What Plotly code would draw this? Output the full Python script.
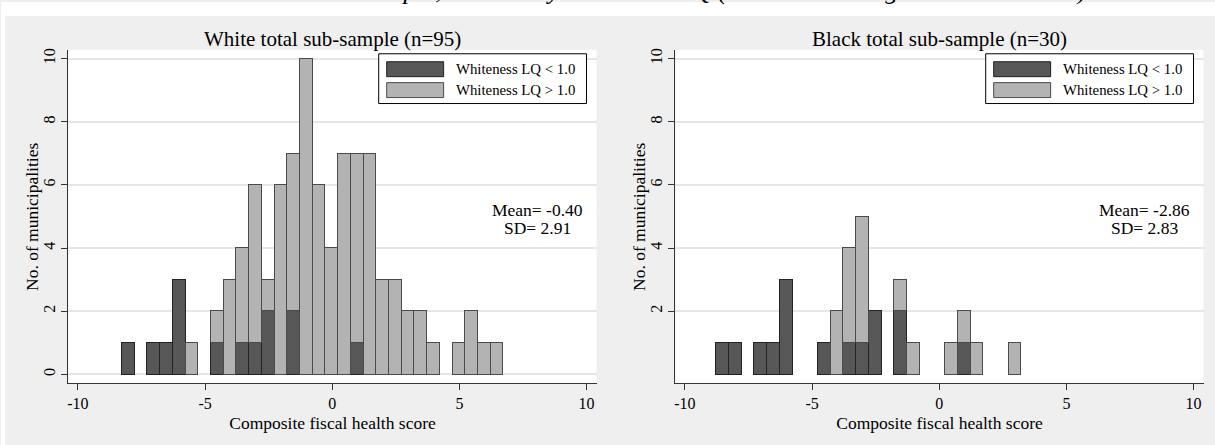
import plotly.graph_objects as go

# ---------------- data ----------------
white_bins = [-8.0, -7.5, -7.0, -6.5, -6.0, -5.5, -5.0, -4.5, -4.0, -3.5, -3.0, -2.5, -2.0, -1.5, -1.0,
              -0.5, 0.0, 0.5, 1.0, 1.5, 2.0, 2.5, 3.0, 3.5, 4.0, 4.5, 5.0, 5.5, 6.0, 6.5]
white_lq_below = [1, 0, 1, 1, 3, 0, 0, 1, 0, 1, 1, 2, 0, 2, 0, 0, 0, 0, 1, 0, 0, 0, 0, 0, 0, 0, 0, 0, 0, 0]
white_lq_above = [0, 0, 0, 0, 0, 1, 0, 1, 3, 3, 5, 1, 6, 5, 10, 6, 4, 7, 6, 7, 3, 3, 2, 2, 1, 0, 1, 2, 1, 1]

black_bins = [-8.5, -8.0, -7.0, -6.5, -6.0, -4.5, -4.0, -3.5, -3.0, -2.5, -1.5, -1.0, 0.5, 1.0, 1.5, 3.0]
black_lq_below = [1, 1, 1, 1, 3, 1, 0, 1, 1, 2, 2, 0, 0, 1, 0, 0]
black_lq_above = [0, 0, 0, 0, 0, 0, 2, 3, 4, 0, 1, 1, 1, 1, 1, 1]

panel_titles = ["White total sub-sample (n=95)", "Black total sub-sample (n=30)"]
panel_stats = [("-0.40", "2.91"), ("-2.86", "2.83")]
legend_labels = ["Whiteness LQ < 1.0", "Whiteness LQ > 1.0"]
x_title = "Composite fiscal health score"
y_title = "No. of municipalities"
x_ticks = [-10, -5, 0, 5, 10]
x_ticklabels = ["-10", "-5", "0", "5", "10"]
y_ticks_left = [0, 2, 4, 6, 8, 10]
y_ticks_right = [2, 4, 6, 8, 10]
bin_width = 0.5

caption = ("Distribution in each sub-sample, ordered by Whiteness LQ "
           "(based on the regional white share)")

# ---------------- styling ----------------
W, H = 1215, 445
FONT = "Liberation Serif"
DARK = "#575757"
LIGHT = "#b3b3b3"
BG = "#efefef"
AXIS = "#333333"
GRID = "#e6e6e6"


def px(x):
    return x / W


def py(y):
    return 1 - y / H


panels = [
    dict(x0=67.5, x1=596.0, bins=white_bins, below=white_lq_below, above=white_lq_above,
         yticks=y_ticks_left, xa="x", ya="y"),
    dict(x0=675.0, x1=1203.5, bins=black_bins, below=black_lq_below, above=black_lq_above,
         yticks=y_ticks_right, xa="x2", ya="y2"),
]
PT, PB = 48.0, 383.0

fig = go.Figure()


def nz(vals):
    return [v if v else None for v in vals]


for i, p in enumerate(panels):
    fig.add_trace(go.Bar(x=p["bins"], y=nz(p["below"]), width=bin_width, name=legend_labels[0],
                         marker=dict(color=DARK, line=dict(color="#222222", width=1)),
                         xaxis=p["xa"], yaxis=p["ya"], showlegend=False, hoverinfo="x+y"))
    fig.add_trace(go.Bar(x=p["bins"], y=nz(p["above"]), width=bin_width, name=legend_labels[1],
                         marker=dict(color=LIGHT, line=dict(color="#4a4a4a", width=1)),
                         xaxis=p["xa"], yaxis=p["ya"], showlegend=False, hoverinfo="x+y"))

layout = dict(
    width=W, height=H, margin=dict(l=0, r=0, t=0, b=0),
    paper_bgcolor=BG, plot_bgcolor="white",
    barmode="stack", bargap=0, showlegend=False,
    font=dict(family=FONT, color="black", size=16),
)

for i, p in enumerate(panels):
    sx = "" if i == 0 else "2"
    layout["xaxis" + sx] = dict(
        domain=[px(p["x0"]), px(p["x1"])], range=[-10.37, 10.39], anchor="y" + sx,
        tickvals=x_ticks, ticktext=x_ticklabels, ticks="outside", ticklen=6, tickcolor=AXIS,
        tickwidth=1, showline=True, linecolor=AXIS, linewidth=1, showgrid=False, zeroline=False,
        tickfont=dict(family=FONT, size=16, color="black"),
        title=dict(text=x_title, font=dict(family=FONT, size=17.5, color="black"), standoff=5),
    )
    layout["yaxis" + sx] = dict(
        domain=[py(PB), py(PT)], range=[-0.284, 10.28], anchor="x" + sx,
        tickvals=p["yticks"], ticks="outside", ticklen=6, tickcolor=AXIS, tickwidth=1,
        tickangle=-90,
        showline=True, linecolor=AXIS, linewidth=1, showgrid=True, gridcolor=GRID, gridwidth=1.5,
        zeroline=False,
        tickfont=dict(family=FONT, size=16, color="black"),
    )

shapes = [
    # white page strips outside the grey graph region
    dict(type="rect", xref="paper", yref="paper", x0=0, x1=px(4), y0=0, y1=1,
         fillcolor="white", line=dict(width=0), layer="below"),
    dict(type="rect", xref="paper", yref="paper", x0=0, x1=1, y0=py(14), y1=1,
         fillcolor="white", line=dict(width=0), layer="below"),
]
annotations = [
    dict(text=caption, xref="paper", yref="paper", x=px(97), y=py(5.5), xanchor="left",
         yanchor="bottom", showarrow=False,
         font=dict(family=FONT, size=26, color="black", style="italic")),
]

for i, p in enumerate(panels):
    cx = (p["x0"] + p["x1"]) / 2
    annotations.append(dict(text=panel_titles[i], xref="paper", yref="paper", x=px(cx), y=py(37),
                            xanchor="center", yanchor="middle", showarrow=False,
                            font=dict(family=FONT, size=21, color="black")))
    # y axis title
    annotations.append(dict(text=y_title, xref="paper", yref="paper", x=px(p["x0"] - 37),
                            y=py((PT + PB) / 2), xanchor="center", yanchor="middle",
                            textangle=-90, showarrow=False,
                            font=dict(family=FONT, size=17.5, color="black")))
    # stats text
    m, s = panel_stats[i]
    for txt, yy in [(f"Mean= {m}", 209), (f"SD= {s}", 227)]:
        annotations.append(dict(text=txt, xref="paper", yref="paper",
                                x=px(p["x1"] - 59.5), y=py(yy), xanchor="center", yanchor="middle",
                                showarrow=False, font=dict(family=FONT, size=17.5, color="black")))
    # legend box
    lx1 = p["x1"] - 10
    lx0 = lx1 - 208
    shapes.append(dict(type="rect", xref="paper", yref="paper", x0=px(lx0), x1=px(lx1),
                       y0=py(102), y1=py(52), fillcolor="white",
                       line=dict(color="black", width=1)))
    for j, (col, lcol) in enumerate([(DARK, "#222222"), (LIGHT, "#4a4a4a")]):
        top = 60 + j * 21
        shapes.append(dict(type="rect", xref="paper", yref="paper", x0=px(lx0 + 8), x1=px(lx0 + 65),
                           y0=py(top + 15), y1=py(top), fillcolor=col,
                           line=dict(color=lcol, width=1)))
        annotations.append(dict(text=legend_labels[j], xref="paper", yref="paper",
                                x=px(lx0 + 75), y=py(top + 7.5), xanchor="left", yanchor="middle",
                                showarrow=False, font=dict(family=FONT, size=14.8, color="black")))

layout["shapes"] = shapes
layout["annotations"] = annotations
fig.update_layout(**layout)
fig.write_html("out.html")
